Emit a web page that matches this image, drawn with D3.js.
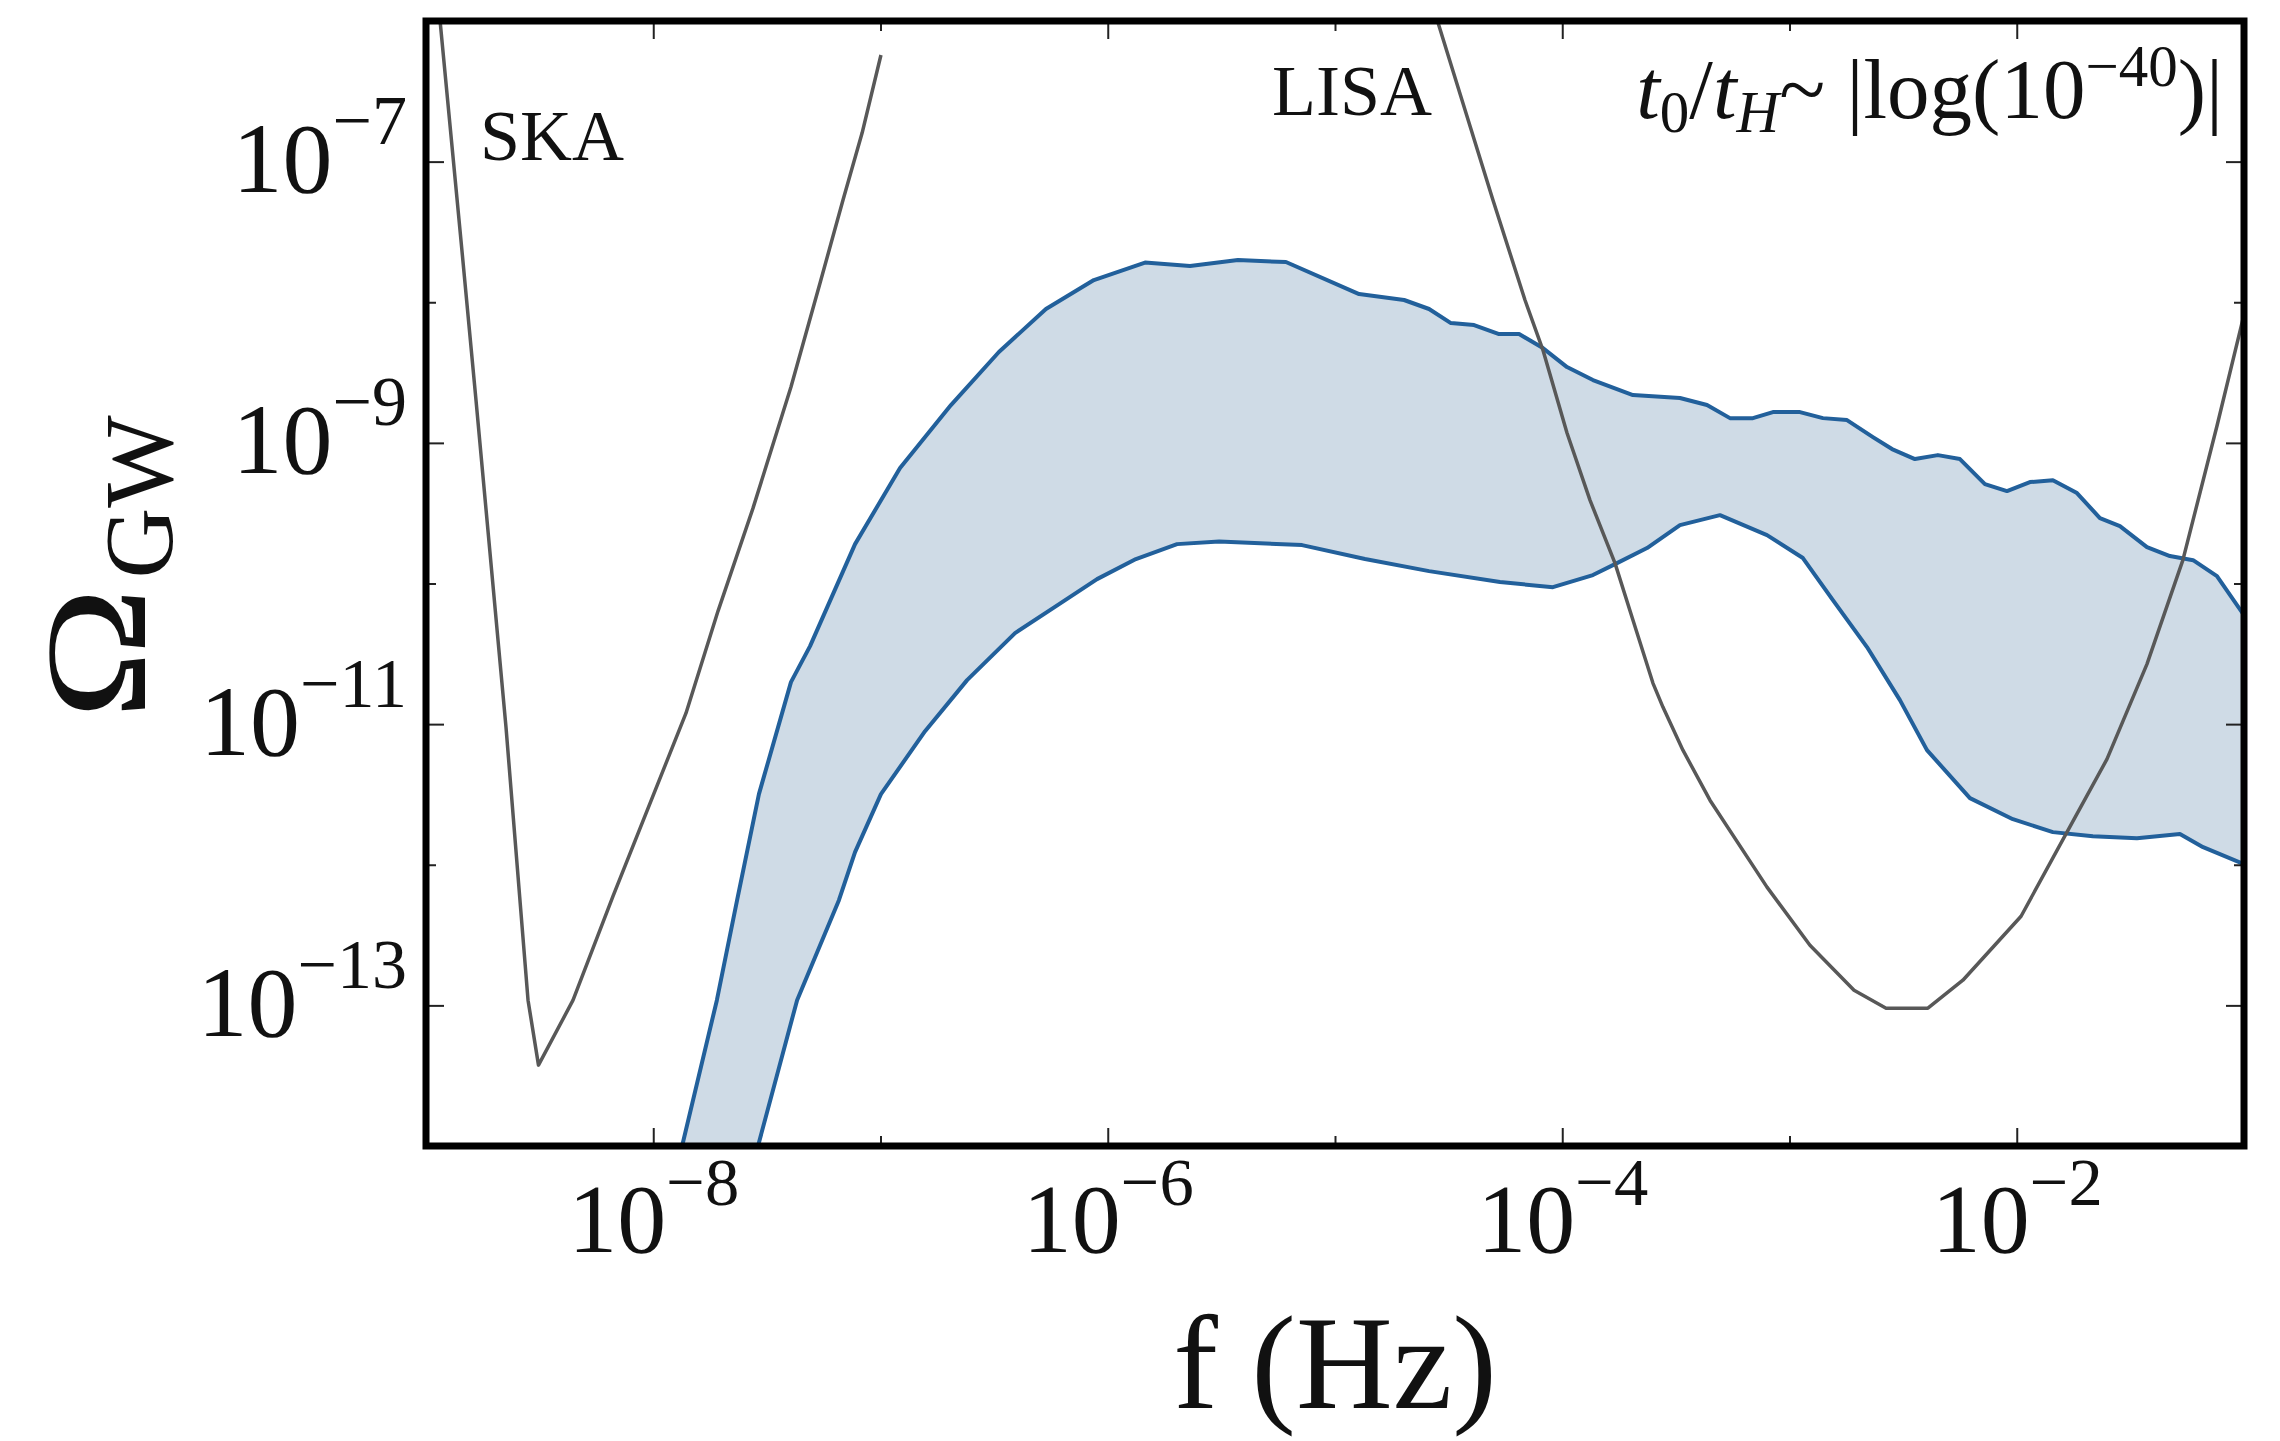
<!DOCTYPE html>
<html>
<head>
<meta charset="utf-8">
<script src="https://cdn.jsdelivr.net/npm/d3@7"></script>
<style>
  body { margin: 0; background: #fff; }
  text { font-family: "Liberation Serif", "Times New Roman", serif; fill: #111; }
</style>
</head>
<body>
<script>
// values, as exponents: log10(f / Hz) and log10(Omega_GW)
var skaLogF = [-8.978, -8.938, -8.842, -8.780, -8.648, -8.551, -8.505, -8.353, -8.177, -7.856, -7.715, -7.561, -7.394, -7.266, -7.165, -7.081, -6.998];
var skaLogO = [-5.5, -6.0, -7.629, -8.696, -11.021, -12.963, -13.425, -12.963, -12.223, -10.922, -10.196, -9.464, -8.603, -7.863, -7.273, -6.797, -6.242];

var lisaLogF = [-4.606, -4.549, -4.305, -4.164, -4.085, -3.979, -3.878, -3.768, -3.689, -3.601, -3.557, -3.469, -3.350, -3.099, -2.910, -2.716, -2.575, -2.391, -2.237, -1.981, -1.779, -1.603, -1.427, -1.269, -1.119, -1.009, -0.93];
var lisaLogO = [-5.7, -6.0, -7.273, -7.984, -8.340, -8.930, -9.407, -9.855, -10.260, -10.708, -10.879, -11.185, -11.541, -12.159, -12.572, -12.892, -13.020, -13.020, -12.821, -12.366, -11.768, -11.249, -10.573, -9.834, -8.880, -8.148, -7.63];

var upperLogF = [-7.918, -7.873, -7.720, -7.631, -7.535, -7.394, -7.310, -7.112, -6.914, -6.690, -6.479, -6.272, -6.061, -5.836, -5.638, -5.427, -5.216, -4.894, -4.696, -4.586, -4.490, -4.388, -4.278, -4.190, -4.085, -3.979, -3.865, -3.689, -3.482, -3.363, -3.262, -3.161, -3.073, -2.954, -2.853, -2.747, -2.633, -2.549, -2.448, -2.347, -2.250, -2.140, -2.043, -1.942, -1.841, -1.735, -1.634, -1.546, -1.427, -1.326, -1.224, -1.119, -1.0];
var upperLogO = [-14.3, -14.0, -12.963, -12.252, -11.498, -10.701, -10.445, -9.720, -9.179, -8.731, -8.354, -8.048, -7.842, -7.718, -7.743, -7.700, -7.714, -7.942, -7.984, -8.048, -8.148, -8.162, -8.226, -8.226, -8.326, -8.461, -8.553, -8.660, -8.681, -8.731, -8.824, -8.824, -8.781, -8.781, -8.824, -8.838, -8.959, -9.044, -9.115, -9.087, -9.115, -9.293, -9.343, -9.279, -9.265, -9.357, -9.535, -9.592, -9.741, -9.805, -9.834, -9.947, -10.225];

var lowerLogF = [-7.589, -7.539, -7.367, -7.183, -7.112, -6.998, -6.804, -6.619, -6.408, -6.214, -6.047, -5.876, -5.695, -5.510, -5.145, -4.868, -4.586, -4.274, -4.041, -3.865, -3.759, -3.627, -3.482, -3.306, -3.099, -2.941, -2.809, -2.659, -2.514, -2.395, -2.206, -2.017, -1.841, -1.665, -1.471, -1.282, -1.180, -1.0];
var lowerLogO = [-14.3, -14.0, -12.963, -12.252, -11.910, -11.498, -11.050, -10.687, -10.353, -10.147, -9.969, -9.826, -9.720, -9.702, -9.727, -9.826, -9.912, -9.990, -10.026, -9.940, -9.855, -9.748, -9.585, -9.514, -9.656, -9.819, -10.118, -10.452, -10.829, -11.185, -11.526, -11.676, -11.768, -11.797, -11.811, -11.782, -11.875, -11.996];

var xMajor = [1e-8, 1e-6, 1e-4, 1e-2];
var xMinor = [1e-9, 1e-7, 1e-5, 1e-3, 1e-1];
var yMajor = [1e-7, 1e-9, 1e-11, 1e-13];
var yMinor = [1e-6, 1e-8, 1e-10, 1e-12, 1e-14];

var W = 2280, H = 1441;
var m = {left: 426, right: 2244, top: 21, bottom: 1146};

var svg = d3.select("body").append("svg")
    .attr("width", W)
    .attr("height", H);

var x = d3.scaleLog().domain([1e-9, 1e-1]).range([m.left, m.right]);
var y = d3.scaleLog().domain([1e-14, 1e-6]).range([m.bottom, m.top]);

function pts(lf, lo) {
  return lf.map(function (v, i) { return [Math.pow(10, v), Math.pow(10, lo[i])]; });
}

svg.append("clipPath").attr("id", "plot")
  .append("rect")
    .attr("x", m.left).attr("y", m.top)
    .attr("width", m.right - m.left).attr("height", m.bottom - m.top);

var line = d3.line().x(function (d) { return x(d[0]); }).y(function (d) { return y(d[1]); });
var g = svg.append("g").attr("clip-path", "url(#plot)");

var upper = pts(upperLogF, upperLogO);
var lower = pts(lowerLogF, lowerLogO);

// shaded band between the two blue curves
g.append("path")
  .datum(upper.concat(lower.slice().reverse()))
  .attr("d", function (d) { return line(d) + "Z"; })
  .attr("fill", "#cfdbe6");

[upper, lower].forEach(function (c) {
  g.append("path").datum(c).attr("d", line)
    .attr("fill", "none").attr("stroke", "#22609b").attr("stroke-width", 4)
    .attr("stroke-linejoin", "round");
});

// detector sensitivity curves
[pts(skaLogF, skaLogO), pts(lisaLogF, lisaLogO)].forEach(function (c) {
  g.append("path").datum(c).attr("d", line)
    .attr("fill", "none").attr("stroke", "#585858").attr("stroke-width", 3.5)
    .attr("stroke-linejoin", "round");
});

// axes, ticks pointing in like matplotlib
function tickLabel(sel, size) {
  sel.each(function (d) {
    var t = d3.select(this).text(null).attr("font-size", size);
    t.append("tspan").text("10");
    t.append("tspan")
      .attr("font-size", size * 0.7)
      .attr("dy", -0.48 * size)
      .text(String(Math.round(Math.log10(d))).replace("-", "\u2212"));
  });
}

function styleTicks(a) {
  a.select(".domain").remove();
  a.selectAll("line").attr("stroke", "#222").attr("stroke-width", 2);
}

var axB = svg.append("g").attr("transform", "translate(0," + m.bottom + ")")
  .call(d3.axisBottom(x).tickValues(xMajor).tickSize(-18).tickPadding(0));
styleTicks(axB);
axB.selectAll("text").attr("y", 106).attr("dy", null).call(tickLabel, 98);

var axL = svg.append("g").attr("transform", "translate(" + m.left + ",0)")
  .call(d3.axisLeft(y).tickValues(yMajor).tickSize(-18).tickPadding(19));
styleTicks(axL);
axL.selectAll("text").attr("dy", 30).call(tickLabel, 100);

var blank = function () { return ""; };
[
  [d3.axisBottom(x).tickValues(xMinor).tickSize(-10), "translate(0," + m.bottom + ")"],
  [d3.axisTop(x).tickValues(xMajor).tickSize(-18), "translate(0," + m.top + ")"],
  [d3.axisTop(x).tickValues(xMinor).tickSize(-10), "translate(0," + m.top + ")"],
  [d3.axisLeft(y).tickValues(yMinor).tickSize(-10), "translate(" + m.left + ",0)"],
  [d3.axisRight(y).tickValues(yMajor).tickSize(-18), "translate(" + m.right + ",0)"],
  [d3.axisRight(y).tickValues(yMinor).tickSize(-10), "translate(" + m.right + ",0)"]
].forEach(function (p) {
  var a = svg.append("g").attr("transform", p[1]).call(p[0].tickFormat(blank));
  styleTicks(a);
});

// frame
svg.append("rect")
  .attr("x", m.left).attr("y", m.top)
  .attr("width", m.right - m.left).attr("height", m.bottom - m.top)
  .attr("fill", "none").attr("stroke", "#000").attr("stroke-width", 7);

// axis titles
svg.append("text")
  .attr("x", (m.left + m.right) / 2).attr("y", 1408)
  .attr("text-anchor", "middle").attr("font-size", 134)
  .text("f (Hz)");

// Omega_GW, rotated; the math Omega is wider than the text one
var yt = svg.append("g")
  .attr("transform", "translate(140," + (m.top + m.bottom) / 2 + ") rotate(-90)");
yt.append("text")
  .attr("transform", "scale(1.25,1)")
  .attr("x", -136 / 1.25).attr("y", 5)
  .attr("font-size", 143)
  .text("\u03A9");
yt.append("text")
  .attr("x", 5).attr("y", 32)
  .attr("font-size", 98)
  .text("GW");

// annotations
svg.append("text").attr("x", 480).attr("y", 160).attr("font-size", 72).text("SKA");
svg.append("text").attr("x", 1272).attr("y", 115).attr("font-size", 72).text("LISA");

var ann = svg.append("text")
  .attr("x", 2223).attr("y", 118)
  .attr("text-anchor", "end").attr("font-size", 85);
ann.append("tspan").attr("font-style", "italic").text("t");
ann.append("tspan").attr("font-size", 59).attr("dy", 14).text("0");
ann.append("tspan").attr("dy", -14).text("/");
ann.append("tspan").attr("font-style", "italic").text("t");
ann.append("tspan").attr("font-style", "italic").attr("font-size", 59).attr("dy", 14).text("H");
ann.append("tspan").attr("dy", -14).text("~ |log(10");
ann.append("tspan").attr("font-size", 59).attr("dy", -32).text("\u221240");
ann.append("tspan").attr("dy", 32).text(")|");
</script>
</body>
</html>
